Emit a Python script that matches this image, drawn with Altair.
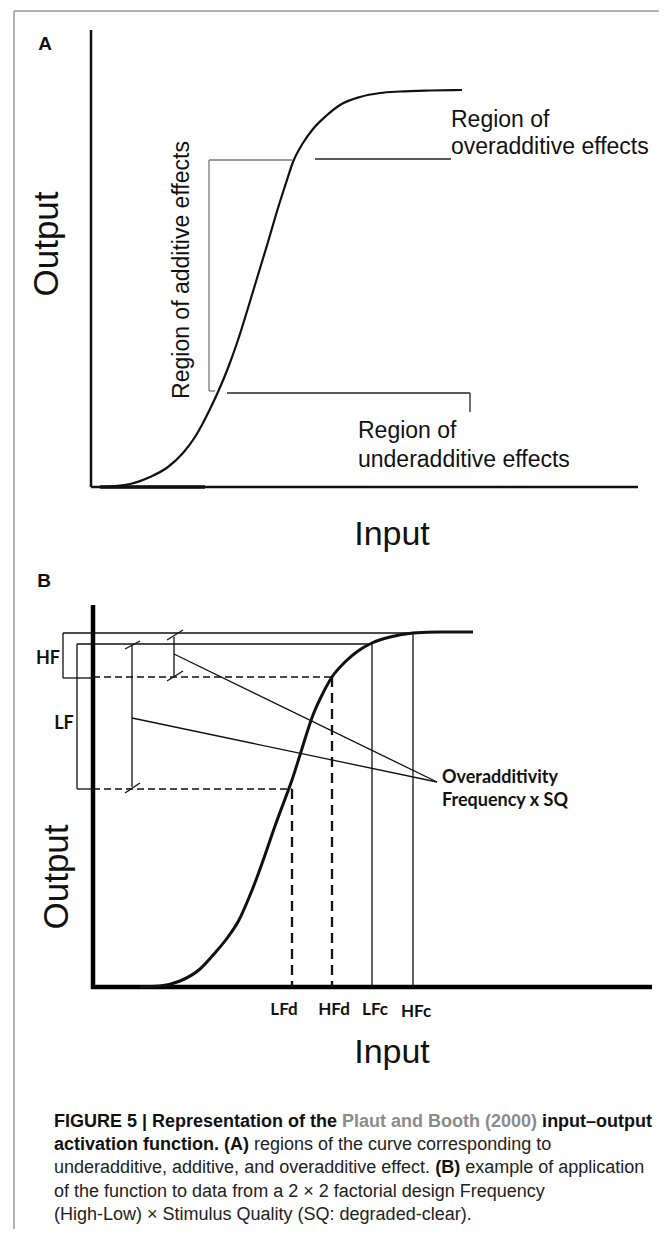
import altair as alt
import pandas as pd

# ---------------- figure frame (reference pixel units) ----------------
X_DOMAIN = [8, 659]
Y_DOMAIN = [8, 1229]
W, H = 651, 1221

# ---------------- Panel A : sigmoid ----------------
curve_a_input = [100, 130, 150, 168, 183, 195, 203, 210, 218, 228, 238, 248, 258,
                 268, 278, 286, 293, 303, 313, 326, 340, 360, 380, 400, 430, 462]
curve_a_output = [487, 484, 477, 467, 453, 437, 423, 409, 392, 368, 340, 308, 275,
                  242, 208, 183, 162, 143, 129, 116, 105, 97, 93, 91.5, 90.5, 90]

# ---------------- Panel B : sigmoid ----------------
curve_b_input = [140, 160, 180, 200, 214, 228, 239, 248, 256, 265, 275, 285, 292,
                 300, 313, 323, 332, 345, 358, 372, 390, 413, 440, 473]
curve_b_output = [987, 986, 981, 969, 954, 937, 920, 900, 880, 855, 826, 799, 780,
                  755, 715, 693, 677, 662, 651, 643, 637, 633, 632, 632]

# ---------------- line segments: kind, x1, y1, x2, y2 ----------------
segments = [
    ("border", 14, 11, 14, 1237),
    ("border", 14, 11, 667, 11),
    # panel A axes
    ("axisA", 91, 30, 91, 487),
    ("axisA", 91, 487, 638, 487),
    ("blob", 100, 487, 205, 487),
    # panel A brackets
    ("gray", 209, 160, 292, 160),
    ("gray", 209, 160, 209, 391),
    ("gray", 209, 391, 215, 391),
    ("thin", 315, 159, 451, 159),
    ("thin", 227, 393, 470, 393),
    ("thin", 470, 393, 470, 412),
    # panel B axes
    ("axisB", 93, 605, 93, 989),
    ("axisB", 91, 987, 652, 987),
    # HF / LF brackets
    ("thinB", 63, 633, 63, 678),
    ("thinB", 63, 633, 413, 633),
    ("thinB", 63, 678, 93, 678),
    ("thinB", 77, 644, 77, 789),
    ("thinB", 77, 644, 372, 644),
    ("thinB", 77, 789, 93, 789),
    # clear stimulus verticals
    ("thinB", 372, 644, 372, 987),
    ("thinB", 413, 633, 413, 987),
    # inner difference brackets with slashes
    ("thinB", 132, 645, 132, 787),
    ("thinB", 125, 649, 140, 641),
    ("thinB", 125, 793, 140, 783),
    ("thinB", 174, 637, 174, 676),
    ("thinB", 167, 640, 183, 630),
    ("thinB", 167, 681, 183, 671),
    # pointers to label
    ("thinB", 174, 654, 437, 782),
    ("thinB", 132, 718, 437, 782),
    # degraded dashed guides
    ("dashH", 93, 677, 332, 677),
    ("dashH", 93, 789, 292, 789),
    ("dashV", 332, 677, 332, 987),
    ("dashV", 292, 789, 292, 987),
]

seg_styles = {
    "border": dict(color="#9a9a9a", strokeWidth=1.5),
    "axisA": dict(color="#111111", strokeWidth=2.5),
    "blob": dict(color="#111111", strokeWidth=3.5),
    "gray": dict(color="#777777", strokeWidth=1.3),
    "thin": dict(color="#222222", strokeWidth=1.3),
    "axisB": dict(color="#000000", strokeWidth=4.5),
    "thinB": dict(color="#111111", strokeWidth=1.3),
    "dashH": dict(color="#111111", strokeWidth=1.5, strokeDash=[7, 4]),
    "dashV": dict(color="#111111", strokeWidth=2.3, strokeDash=[10, 6]),
}

# ---------------- text labels ----------------
LIB = "Liberation Sans"
LATO = "Lato"
text_styles = {
    "panel": dict(font=LIB, fontSize=19, fontWeight="bold", align="center", baseline="alphabetic"),
    "axisTitle": dict(font=LIB, fontSize=34, align="center", baseline="alphabetic"),
    "axisTitleV": dict(font=LIB, fontSize=35, align="center", baseline="middle", angle=270),
    "regionV": dict(font=LIB, fontSize=23, align="center", baseline="middle", angle=270),
    "region": dict(font=LIB, fontSize=23, align="left", baseline="alphabetic"),
    "bLabel": dict(font=LATO, fontSize=18, fontWeight="bold", align="center", baseline="middle"),
    "bNote": dict(font=LATO, fontSize=18, fontWeight="bold", align="left", baseline="alphabetic"),
    "bTick": dict(font=LATO, fontSize=17, fontWeight="bold", align="center", baseline="alphabetic"),
}

texts = [
    ("A", 45, 50, "panel"),
    ("Output", 47, 244, "axisTitleV"),
    ("Region of additive effects", 182, 270, "regionV"),
    ("Region of", 451, 127, "region"),
    ("overadditive effects", 451, 154, "region"),
    ("Region of", 358, 438, "region"),
    ("underadditive effects", 358, 467, "region"),
    ("Input", 392, 545, "axisTitle"),
    ("B", 44, 587, "panel"),
    ("HF", 48, 659, "bLabel"),
    ("LF", 64, 724, "bLabel"),
    ("Overadditivity", 442, 783, "bNote"),
    ("Frequency x SQ", 442, 806, "bNote"),
    ("LFd", 284, 1015, "bTick"),
    ("HFd", 334, 1015, "bTick"),
    ("LFc", 375, 1015, "bTick"),
    ("HFc", 416, 1017, "bTick"),
    ("Output", 57, 877, "axisTitleV"),
    ("Input", 392, 1063, "axisTitle"),
]

# ---------------- caption (mixed styles, laid out with Arial metrics) ----------------
caption_lines = [
    [("FIGURE 5 | Representation of the ", "b"), ("Plaut and Booth (2000)", "link"), (" input\u2013output", "b")],
    [("activation function. (A)", "b"), (" regions of the curve corresponding to", "r")],
    [("underadditive, additive, and overadditive effect. ", "r"), ("(B)", "b"), (" example of application", "r")],
    [("of the function to data from a 2 \u00d7 2 factorial design Frequency", "r")],
    [("(High-Low) \u00d7 Stimulus Quality (SQ: degraded-clear).", "r")],
]
caption_baselines = [1127, 1150, 1173, 1197, 1220]
CAP_X = 54
CAP_SIZE = 18

REG = {" ": 278, "(": 333, ")": 333, ",": 278, "-": 333, ".": 278, ":": 278, "|": 260,
       "\u00d7": 584, "\u2013": 556, "A": 667, "B": 667, "C": 722, "D": 722, "E": 667,
       "F": 611, "G": 778, "H": 722, "I": 278, "L": 556, "Q": 778, "R": 722, "S": 667,
       "U": 722, "P": 667, "m": 833, "w": 722, "i": 222, "l": 222, "j": 222, "f": 278,
       "t": 278, "r": 333, "c": 500, "k": 500, "s": 500, "v": 500, "x": 500, "y": 500, "z": 500}
BOLD = {" ": 278, "(": 333, ")": 333, ".": 278, "|": 280, "\u2013": 556, "A": 722, "B": 722,
        "E": 667, "F": 611, "G": 778, "I": 278, "P": 667, "R": 722, "U": 722, "i": 278,
        "l": 278, "f": 333, "t": 333, "r": 389, "m": 889, "a": 556, "c": 556, "e": 556,
        "s": 556, "v": 556, "x": 556, "y": 556}


def text_width(s, bold):
    total = 0
    for ch in s:
        if bold:
            total += BOLD.get(ch, 611 if ch.isalpha() else 556)
        else:
            total += REG.get(ch, 556)
    return total / 1000 * CAP_SIZE


cap_rows = []
for line, base in zip(caption_lines, caption_baselines):
    x = CAP_X
    for seg, sty in line:
        bold = sty != "r"
        lead = len(seg) - len(seg.lstrip(" "))
        x += text_width(" " * lead, bold)
        core = seg.strip(" ")
        cap_rows.append(dict(t=core, x=x, y=base, s=sty))
        x += text_width(seg.lstrip(" "), bold)
cap_df = pd.DataFrame(cap_rows)

# ---------------- build chart ----------------
xs = alt.Scale(domain=X_DOMAIN, nice=False, zero=False)
ys = alt.Scale(domain=Y_DOMAIN, nice=False, zero=False, reverse=True)

seg_df = pd.DataFrame(segments, columns=["kind", "x", "y", "x2", "y2"])
layers = []
for kind, sty in seg_styles.items():
    sub = seg_df[seg_df["kind"] == kind]
    layers.append(
        alt.Chart(sub).mark_rule(**sty).encode(
            x=alt.X("x:Q", scale=xs, axis=None),
            y=alt.Y("y:Q", scale=ys, axis=None),
            x2="x2:Q", y2="y2:Q",
        )
    )

curve_a = pd.DataFrame({"input": curve_a_input, "output": curve_a_output,
                        "i": range(len(curve_a_input))})
curve_b = pd.DataFrame({"input": curve_b_input, "output": curve_b_output,
                        "i": range(len(curve_b_input))})
for df, sw in [(curve_a, 2.2), (curve_b, 3.0)]:
    layers.append(
        alt.Chart(df).mark_line(color="#111111", strokeWidth=sw, strokeJoin="round",
                                interpolate="monotone").encode(
            x=alt.X("input:Q", scale=xs, axis=None),
            y=alt.Y("output:Q", scale=ys, axis=None),
            order="i:Q",
        )
    )

txt_df = pd.DataFrame(texts, columns=["t", "x", "y", "style"])
for key, sty in text_styles.items():
    sub = txt_df[txt_df["style"] == key]
    layers.append(
        alt.Chart(sub).mark_text(color="#111111", **sty).encode(
            x=alt.X("x:Q", scale=xs, axis=None),
            y=alt.Y("y:Q", scale=ys, axis=None),
            text="t:N",
        )
    )

cap_styles = {
    "b": dict(fontWeight="bold", color="#111111"),
    "link": dict(fontWeight="bold", color="#8c8c8c"),
    "r": dict(fontWeight="normal", color="#222222"),
}
for key, sty in cap_styles.items():
    sub = cap_df[cap_df["s"] == key]
    layers.append(
        alt.Chart(sub).mark_text(font=LIB, fontSize=CAP_SIZE, align="left",
                                 baseline="alphabetic", **sty).encode(
            x=alt.X("x:Q", scale=xs, axis=None),
            y=alt.Y("y:Q", scale=ys, axis=None),
            text="t:N",
        )
    )

chart = alt.layer(*layers).properties(
    width=W, height=H, padding=0,
    autosize=alt.AutoSizeParams(type="none"),
    background="white",
).configure_view(stroke=None)

chart.save("out.html", embed_options={"renderer": "svg", "actions": False})
